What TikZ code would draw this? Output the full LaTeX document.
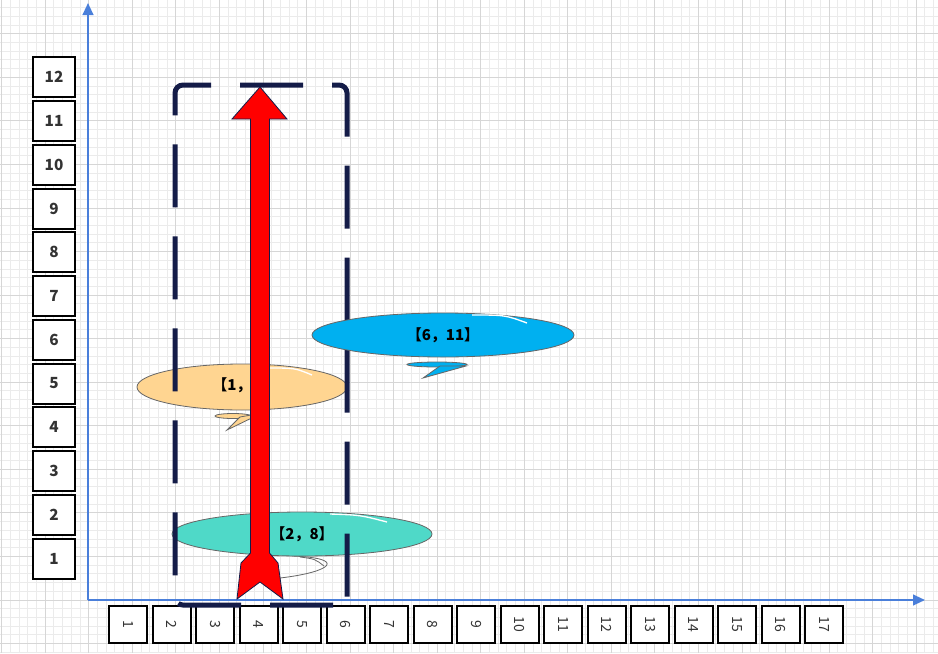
\documentclass[tikz,border=0pt]{standalone}
\usepackage{fontspec}
\newfontfamily\cjk{Noto Sans CJK SC}
\usepackage{tikz}
\usetikzlibrary{arrows.meta}
\usetikzlibrary{shapes.geometric}
\definecolor{minorc}{HTML}{EBEBEB}
\definecolor{majorc}{HTML}{D6D6D6}
\definecolor{axisc}{HTML}{4A7FDA}
\definecolor{navyc}{HTML}{141C48}
\definecolor{labelc}{HTML}{333333}
\definecolor{orangec}{HTML}{FFD591}
\definecolor{bluec}{HTML}{00B0F0}
\definecolor{tealc}{HTML}{4FD9C8}
\tikzset{minorline/.style={draw=minorc, line width=0.75pt}}
\tikzset{majorline/.style={draw=majorc, line width=0.75pt}}
\tikzset{axis/.style={draw=axisc, line width=1.5pt, -{Triangle[length=9pt, width=8pt]}}}
\tikzset{ybox/.style={draw=black, line width=1.5pt, fill=white, inner sep=0pt,
      minimum width=31.5pt, minimum height=30pt, text=labelc,
      font=\cjk\bfseries\fontsize{11.5}{13}\selectfont}}
\tikzset{xbox/.style={draw=black, line width=1.5pt, fill=white, inner sep=0pt, rotate=-90,
      minimum width=27.75pt, minimum height=28.5pt, text=labelc,
      font=\cjk\fontsize{10.5}{12}\selectfont}}
\tikzset{bubble/.style={ellipse, draw=black!60, line width=0.6pt, inner sep=0pt, text=black,
      font=\cjk\bfseries\fontsize{11.25}{13}\selectfont}}
\tikzset{bubtext/.style={inner sep=0pt, text=black, font=\cjk\bfseries\fontsize{11.25}{13}\selectfont}}
\tikzset{tail/.style={draw=black!60, line width=0.6pt}}
\tikzset{shine/.style={draw=white, line width=1pt}}
\tikzset{rangebox/.style={draw=navyc, line width=3.75pt, rounded corners=6pt,
      dash pattern=on 47.25pt off 21.75pt, dash phase=64.5pt}}
\tikzset{redarrow/.style={fill=red, draw=navyc, line width=0.6pt, line join=miter}}
\begin{document}
\begin{tikzpicture}[x=0.75pt,y=-0.75pt]
		\useasboundingbox (0,0) rectangle (938,653);
		\fill[white] (0,0) rectangle (938,653);
		% grid
		\foreach \i in {-10,...,97} \draw[minorline] ({88.8+8.71*\i},0) -- ({88.8+8.71*\i},653);
		\foreach \j in {-6,...,69} \draw[minorline] (0,{600-8.71*\j}) -- (938,{600-8.71*\j});
		\foreach \i in {-2,...,19} \draw[majorline] ({88.8+43.55*\i},0) -- ({88.8+43.55*\i},653);
		\foreach \j in {-1,...,13} \draw[majorline] (0,{600-43.55*\j}) -- (938,{600-43.55*\j});
		% axes
		\coordinate (o) at (88,600);
		\coordinate (xtip) at (925,600);
		\coordinate (ytip) at (88,3);
		\draw[axis] (o) -- (xtip);
		\draw[axis] (o) -- (ytip);
		\foreach \k in {1,...,12} \node[ybox] (y\k) at (54,{558.5-43.75*(\k-1)}) {\k};
		\foreach \k in {1,...,17} \node[xbox] (x\k) at ({128+43.53*(\k-1)},624) {\k};
		% bubbles
		\draw[tail] (292,556) .. controls (348,558) and (332,572) .. (280,578);
		\draw[tail] (300,557) .. controls (315,559) .. (324,566);
		\node[bubble, fill=tealc, minimum width=195pt, minimum height=33pt] (b28) at (302,534) {【2，8】};
		\draw[shine] (330,514) .. controls (360,515) .. (387,522);
		\filldraw[tail, fill=orangec] (233,416) ellipse [x radius=18, y radius=2.5];
		\filldraw[tail, fill=orangec] (227,430) -- (240,417) -- (262,413) -- cycle;
		\node[bubble, fill=orangec, minimum width=157.5pt, minimum height=34.5pt] (b15) at (242,387) {};
		\node[bubtext, anchor=west] (t15) at (212,385) {【1，};
		\draw[shine] (268,368) .. controls (295,368) .. (312,375);
		% range
		\draw[rangebox] (347,605) -- (175,605) -- (175,85) -- (347,85) -- cycle;
		\filldraw[tail, fill=bluec] (437,364.5) ellipse [x radius=30, y radius=2.5];
		\filldraw[tail, fill=bluec] (423,378) -- (440,366) -- (466,366) -- cycle;
		\node[bubble, fill=bluec, minimum width=196.5pt, minimum height=33pt] (b611) at (443,335) {【6，11】};
		\draw[shine] (472,315) .. controls (505,315) .. (527,323);
		% red arrow
		\filldraw[redarrow] (260,87) -- (287,119) -- (269.5,119) -- (269.5,553) -- (278,563) -- (283,599)
			-- (260,582) -- (237,599) -- (241,563) -- (250.5,553) -- (250.5,119) -- (232,119) -- cycle;
\end{tikzpicture}
\end{document}
